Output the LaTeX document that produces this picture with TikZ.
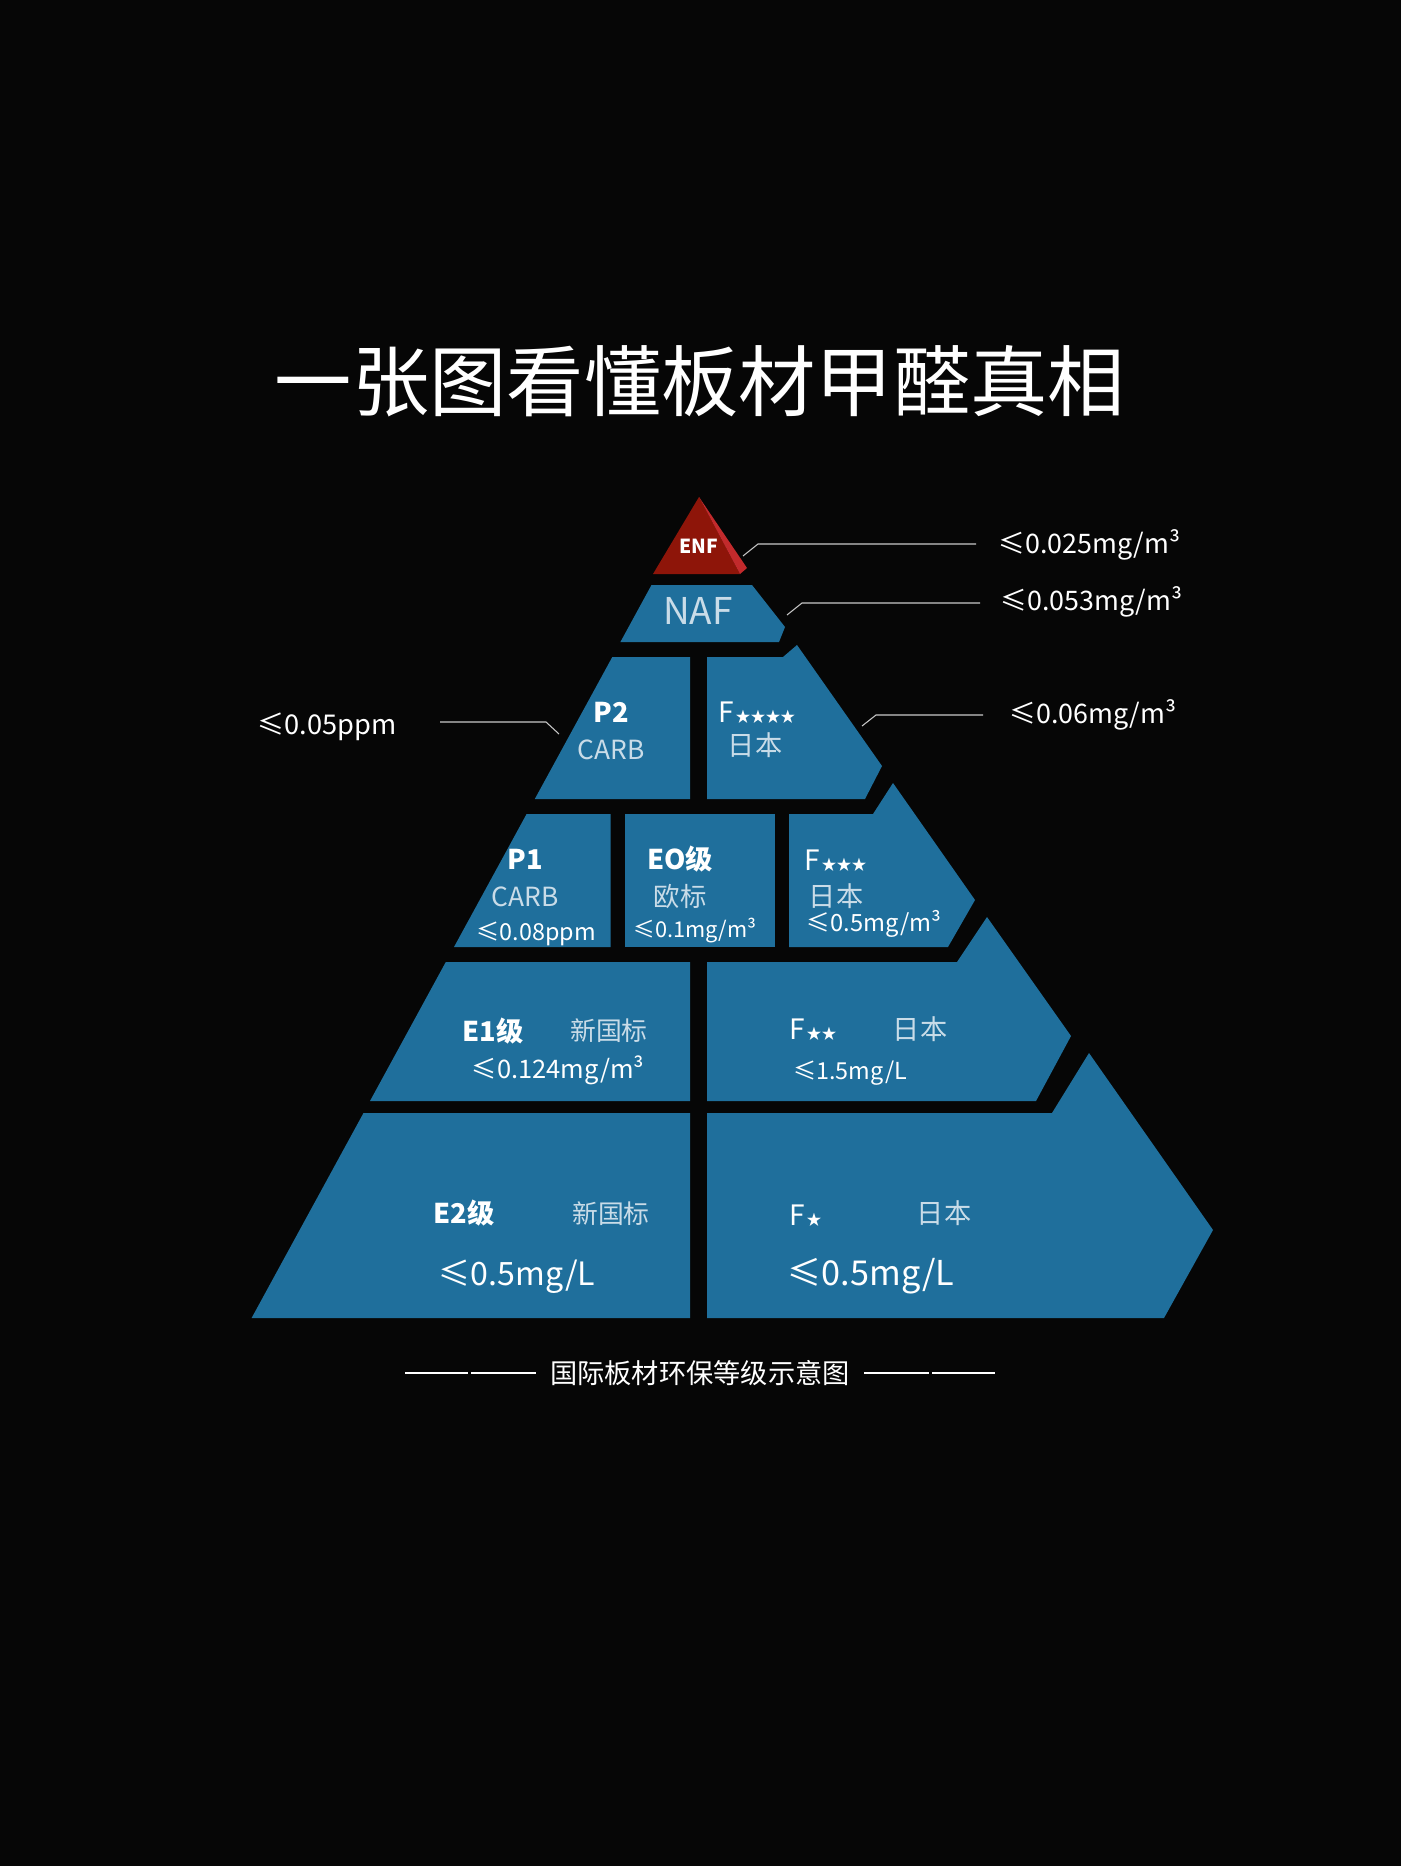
\documentclass[tikz,border=0pt]{standalone}
\usepackage{fontspec}
\setmainfont{Noto Sans CJK SC}
\usetikzlibrary{calc, positioning}

\definecolor{bgblack}{HTML}{060606}
\definecolor{boardblue}{HTML}{1F6F9C}
\definecolor{enfred}{HTML}{8E1509}
\definecolor{enfside}{HTML}{C22A2C}
\definecolor{softtext}{HTML}{C9DCE8}
\definecolor{leadgray}{HTML}{C8C8C8}

\newcommand{\fsz}[1]{\fontsize{#1}{#1}\selectfont}

\tikzset{
  piece/.style={fill=boardblue},
  lbl/.style={text=white, inner sep=0pt, anchor=mid, yshift=-3.5pt},
  soft/.style={text=softtext, inner sep=0pt, anchor=mid, yshift=-3.5pt},
  leader/.style={draw=leadgray, line width=0.6pt},
  footline/.style={draw=white, line width=1.2pt},
}

\begin{document}
\begin{tikzpicture}[x=0.02cm, y=-0.02cm]
\useasboundingbox (0,0) rectangle (1400,1866);
\fill[bgblack] (-10,-10) rectangle (1410,1876);

\node[lbl] (title) at (700,400) {\fsz{44}一张图看懂板材甲醛真相};

% top
\fill[enfred] (699,497) -- (653,574) -- (740,574) -- cycle;
\fill[enfside] (699,497) -- (747,568) -- (740,574) -- cycle;
\fill[piece] (651.5,585) -- (752,585) -- (785,627) -- (779,642) -- (620.4,642) -- cycle;

% rows
\fill[piece] (612.3,657) -- (690,657) -- (690,799) -- (534.8,799) -- cycle;
\fill[piece] (707,657) -- (783,657) -- (797,645) -- (882,766) -- (865,799) -- (707,799) -- cycle;

\fill[piece] (526.6,814) -- (610.7,814) -- (610.7,947) -- (454,947) -- cycle;
\fill[piece] (625,814) rectangle (775,947);
\fill[piece] (789,814) -- (873,814) -- (893,783) -- (975,900) -- (948,947) -- (789,947) -- cycle;

\fill[piece] (445.8,962) -- (690,962) -- (690,1101) -- (370,1101) -- cycle;
\fill[piece] (707,962) -- (957,962) -- (987,917) -- (1071,1036) -- (1036,1101) -- (707,1101) -- cycle;

\fill[piece] (363.5,1113) -- (690,1113) -- (690,1318) -- (251.6,1318) -- cycle;
\fill[piece] (707,1113) -- (1052,1113) -- (1089,1053) -- (1213,1230) -- (1164,1318) -- (707,1318) -- cycle;

% labels in the pieces
\node[lbl] (enf) at (699,543) {\fsz{11}\bfseries ENF};
\node[soft] (naf) at (698,614) {\fsz{21}NAF};

\node[lbl] (ptwo) at (611,712) {\fsz{15.5}\bfseries P2};
\node[soft] (ptwocarb) at (611,749) {\fsz{15}CARB};
\node[lbl, anchor=west] (ffour) at (718,707) {\fsz{16}F\kern1pt{\fsz{8.5}★★★★}};
\node[soft] (ffourjp) at (755,745) {\fsz{15.5}日本};

\node[lbl] (pone) at (525,859) {\fsz{15.5}\bfseries P1};
\node[soft] (ponecarb) at (525,896) {\fsz{15}CARB};
\node[lbl] (poneval) at (536,930) {\fsz{13.3}≤0.08ppm};
\node[lbl] (eo) at (680,859) {\fsz{15.5}\bfseries EO级};
\node[soft] (eoeu) at (680,896) {\fsz{15}欧标};
\node[lbl] (eoval) at (695,927) {\fsz{12.4}≤0.1mg/m³};
\node[lbl, anchor=west] (fthree) at (804,855) {\fsz{16}F\kern1pt{\fsz{8.5}★★★}};
\node[soft] (fthreejp) at (836,896) {\fsz{15.5}日本};
\node[lbl] (fthreeval) at (874,921) {\fsz{13.5}≤0.5mg/m³};

\node[lbl] (eone) at (493,1031) {\fsz{15.5}\bfseries E1级};
\node[soft] (eonecn) at (609,1030) {\fsz{14.7}新国标};
\node[lbl] (eoneval) at (558,1068) {\fsz{14.5}≤0.124mg/m³};
\node[lbl, anchor=west] (ftwo) at (789,1024) {\fsz{16}F\kern1pt{\fsz{8.5}★★}};
\node[soft] (ftwojp) at (920,1029) {\fsz{15.5}日本};
\node[lbl] (ftwoval) at (850,1069) {\fsz{13.3}≤1.5mg/L};

\node[lbl] (etwo) at (464,1213) {\fsz{15.5}\bfseries E2级};
\node[soft] (etwocn) at (611,1213) {\fsz{14.7}新国标};
\node[lbl] (etwoval) at (517,1275) {\fsz{18.3}≤0.5mg/L};
\node[lbl, anchor=west] (fone) at (789,1210) {\fsz{16}F\kern1pt{\fsz{8.5}★}};
\node[soft] (fonejp) at (944,1213) {\fsz{15.5}日本};
\node[lbl] (foneval) at (871,1275) {\fsz{19.5}≤0.5mg/L};

% leaders
\node[lbl, anchor=west] (enfval) at (998,539) {\fsz{15.3}≤0.025mg/m³};
\node[lbl, anchor=west] (nafval) at (1000,596) {\fsz{15.3}≤0.053mg/m³};
\node[lbl, anchor=west] (ffourval) at (1009,709) {\fsz{15.3}≤0.06mg/m³};
\node[lbl, anchor=east] (ptwoval) at (397,721) {\fsz{15.5}≤0.05ppm};

\coordinate (enfa) at (743,556);
\coordinate (enfb) at (758,544);
\coordinate (enfc) at (976,544);
\coordinate (nafa) at (787,615);
\coordinate (nafb) at (802,603);
\coordinate (nafc) at (980,603);
\coordinate (ffoura) at (862,726);
\coordinate (ffourb) at (876,715);
\coordinate (ffourc) at (983,715);
\coordinate (ptwoa) at (559,734);
\coordinate (ptwob) at (546,722);
\coordinate (ptwoc) at (440,722);
\draw[leader] (enfa) -- (enfb) -- (enfc);
\draw[leader] (nafa) -- (nafb) -- (nafc);
\draw[leader] (ffoura) -- (ffourb) -- (ffourc);
\draw[leader] (ptwoa) -- (ptwob) -- (ptwoc);

% caption
\node[lbl] (caption) at (700,1373) {\fsz{15.5}国际板材环保等级示意图};
\coordinate (la) at (405,1373);
\coordinate (lb) at (468,1373);
\coordinate (lc) at (471,1373);
\coordinate (ld) at (536,1373);
\coordinate (ra) at (864,1373);
\coordinate (rb) at (929,1373);
\coordinate (rc) at (932,1373);
\coordinate (rd) at (995,1373);
\draw[footline] (la) -- (lb) (lc) -- (ld);
\draw[footline] (ra) -- (rb) (rc) -- (rd);
\end{tikzpicture}
\end{document}
